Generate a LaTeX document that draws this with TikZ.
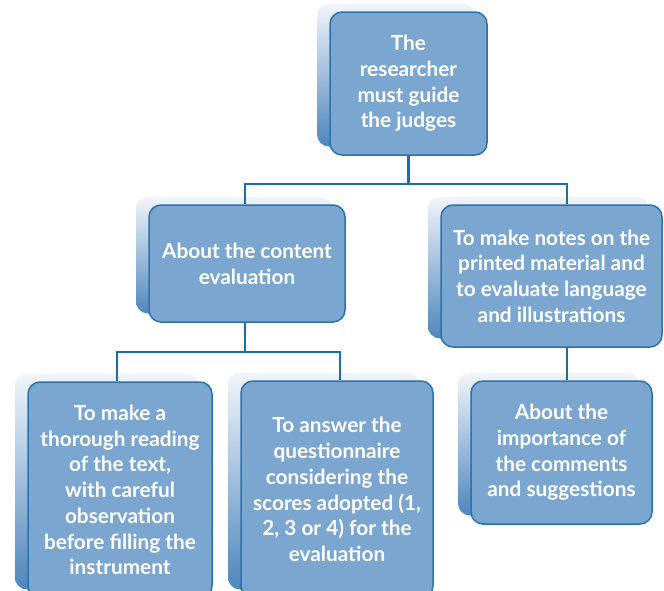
\documentclass[tikz,border=0pt]{standalone}
\usepackage{fontspec}
\setmainfont{Lato}
\definecolor{boxfill}{HTML}{7AA6CF}
\definecolor{boxedge}{HTML}{2B73AD}
\definecolor{connc}{HTML}{1B6EA6}
\definecolor{shtop}{HTML}{F2F5FA}
\definecolor{shbot}{HTML}{4E86BD}
\tikzset{
  mainbox/.style={draw=boxedge, line width=1.5pt, fill=boxfill, rounded corners=12pt,
    inner sep=0pt, align=center, text=white,
    font=\fontsize{20.8}{25.7}\selectfont\bfseries},
  backbox/.style={rounded corners=12pt, inner sep=0pt, top color=shtop, bottom color=shbot, draw=none},
  conn/.style={draw=connc, line width=2.8pt}
}
\begin{document}
\begin{tikzpicture}[x=1pt,y=-1pt]
\useasboundingbox (0,0) rectangle (664,590);
\clip (0,0) rectangle (664,590);
\fill[white] (0,0) rectangle (664,590);
% back (shadow) boxes
\node[backbox, minimum width=157pt, minimum height=143pt] (st) at (395.5,75) {};
\node[backbox, minimum width=196pt, minimum height=117pt] (sml) at (234,255) {};
\node[backbox, minimum width=221pt, minimum height=142pt] (smr) at (538.5,267.5) {};
\node[backbox, minimum width=184pt, minimum height=216pt] (sbl) at (107,481.5) {};
\node[backbox, minimum width=192pt, minimum height=217pt] (sbm) at (324,481) {};
\node[backbox, minimum width=181pt, minimum height=143pt] (sbr) at (548.5,444) {};
% main boxes
\node[mainbox, minimum width=157pt, minimum height=143pt] (t) at (408.5,83.5)
  {The\\researcher\\must guide\\the judges};
\node[mainbox, minimum width=196pt, minimum height=117pt] (ml) at (247,263.5)
  {About the content\\evaluation};
\node[mainbox, minimum width=221pt, minimum height=142pt] (mr) at (551.5,276)
  {To make notes on the\\printed material and\\to evaluate language\\and illustrations};
\node[mainbox, minimum width=184pt, minimum height=216pt] (bl) at (120,490)
  {To make a\\thorough reading\\of the text,\\with careful\\observation\\before filling the\\instrument};
\node[mainbox, minimum width=192pt, minimum height=217pt] (bm) at (337,489.5)
  {To answer the\\questionnaire\\considering the\\scores adopted (1,\\2, 3 or 4) for the\\evaluation};
\node[mainbox, minimum width=181pt, minimum height=143pt] (br) at (561.5,452.5)
  {About the\\importance of\\the comments\\and suggestions};
% connectors
\coordinate (hL) at (245,184);
\coordinate (hR) at (567,184);
\coordinate (m2) at (245,352);
\draw[conn] (t.south) -- (t.south |- hL);
\draw[conn] (hL |- ml.north) -- (hL) -- (hR) -- (hR |- mr.north);
\draw[conn] (ml.south -| m2) -- (m2);
\draw[conn] (bl.north -| 117,0) |- (m2) -| (bm.north -| 340,0);
\draw[conn] (hR |- mr.south) -- (hR |- br.north);
\end{tikzpicture}
\end{document}
